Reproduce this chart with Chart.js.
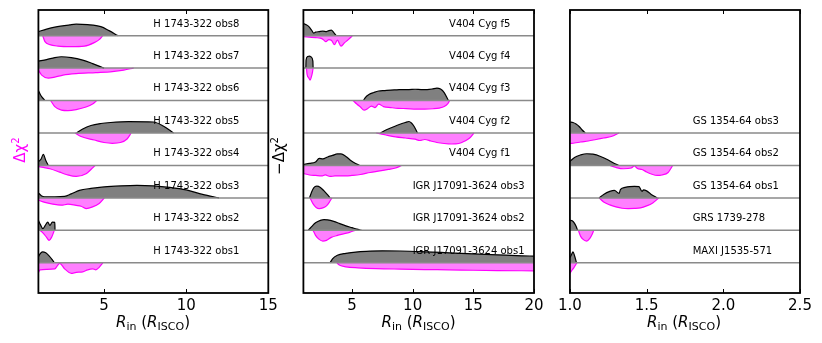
<!DOCTYPE html>
<html>
<head>
<meta charset="utf-8">
<script src="https://cdn.jsdelivr.net/npm/chart.js@4.4.0/dist/chart.umd.min.js"></script>
<style>
body { margin: 0; background: #fff; font-family: "DejaVu Sans", sans-serif; }
#wrap { position: relative; width: 822px; height: 343px; overflow: hidden; }
#wrap canvas { position: absolute; top: 0; }
.xt { position: absolute; top: 311px; height: 22px; line-height: 22px; font-size: 15px; text-align: center; white-space: nowrap; }
.xt sub { font-size: 11px; vertical-align: -3px; }
.yt { position: absolute; font-size: 15px; white-space: nowrap; transform: rotate(-90deg); transform-origin: center center; }
.yt sup { font-size: 10px; vertical-align: 6px; }
</style>
</head>
<body>
<div id="wrap">
  <canvas id="c1" width="284" height="343" style="left:0px"></canvas>
  <canvas id="c2" width="270" height="343" style="left:284px"></canvas>
  <canvas id="c3" width="268" height="343" style="left:554px"></canvas>
  <div class="xt" style="left:38px;width:230px"><i>R</i><sub>in</sub> (<i>R</i><sub>ISCO</sub>)</div>
  <div class="xt" style="left:303px;width:231px"><i>R</i><sub>in</sub> (<i>R</i><sub>ISCO</sub>)</div>
  <div class="xt" style="left:568px;width:232px"><i>R</i><sub>in</sub> (<i>R</i><sub>ISCO</sub>)</div>
  <div class="yt" style="left:-2px;top:140px;width:44px;height:20px;text-align:center;color:#ff00ff">Δχ<sup>2</sup></div>
  <div class="yt" style="left:255px;top:146px;width:48px;height:20px;text-align:center;color:#000">−Δχ<sup>2</sup></div>
</div>
<script>
// hauteurs, en unités arbitraires (pic ~12) -> converties en fraction de ligne
const HU = 1 / 32.4;

// H 1743-322 : [R_in, hauteur]  (Up = gris au-dessus, Dn = magenta en dessous)
const h8Up = [[1,4],[1.5,6.5],[2,8.5],[2.9,10.7],[3.3,11.4],[4,11],[4.8,9],[5.3,5],[5.83,0]];
const h8Dn = [[1.26,0],[1.4,6],[1.7,9],[2.2,10.5],[3,11],[3.8,10.5],[4.4,7],[4.7,4],[4.92,0]];
const h7Up = [[1,7],[1.5,8.5],[2,10.5],[2.4,11.3],[3,10.5],[3.7,8],[4.3,4.5],[5,0]];
const h7Dn = [[1,2],[1.2,7],[1.6,10],[2,9],[2.5,7],[3.3,5.5],[4.5,4.5],[5.5,3.5],[6.2,2],[6.8,0]];
const h6Up = [[1,10],[1.15,5],[1.4,0]];
const h6Dn = [[1.75,0],[2,6],[2.4,9.5],[2.8,10],[3.3,9],[3.9,6.5],[4.3,3.5],[4.55,0]];
const h5Up = [[3.33,0],[3.7,4],[4.2,7.5],[4.8,9.5],[5.4,10.5],[6.5,11.3],[8,11],[8.6,7],[9.23,0]];
const h5Dn = [[3.23,0],[3.6,3.5],[4.4,7],[5,9.5],[5.5,10.3],[6,9.5],[6.4,6],[6.65,0]];
const h4Up = [[1,4],[1.15,6],[1.3,11],[1.45,5],[1.6,0]];
const h4Dn = [[1,1],[1.3,2],[1.7,3.3],[2.3,6.7],[2.7,9],[3.3,11],[3.9,8.3],[4.2,4],[4.45,0]];
const h3Up = [[1,5],[1.2,2],[1.5,1],[2,1],[2.6,1.5],[3,4],[3.5,7.5],[4.2,9.5],[5,11],[6,12],[7,12.5],[8,12],[9,10.5],[10,8],[11,3.5],[12,0]];
const h3Dn = [[1,2.3],[1.4,4.5],[1.8,6],[2.4,7.3],[2.8,6.3],[3.3,7.5],[3.6,8.3],[3.9,10.6],[4.3,9],[4.7,5.6],[5.02,0]];
const h2Up = [[1,10],[1.13,5.5],[1.27,1.7],[1.42,5],[1.57,8.3],[1.7,5],[1.85,8.3],[2,8],[2.01,0]];
const h2Dn = [[1.1,0],[1.3,3],[1.5,7],[1.65,10],[1.8,7],[1.97,0]];
const h1Up = [[1,6],[1.1,9],[1.25,11],[1.45,10],[1.65,7],[1.85,3],[1.97,0]];
const h1Dn = [[1,10],[1.1,7],[1.5,6.5],[2,6],[2.15,3],[2.3,0.5],[2.6,6],[3,10.5],[3.3,9.5],[3.7,9],[4,7],[4.3,6],[4.5,7],[4.7,4.5],[4.92,0]];

// V404 Cyg et IGR J17091-3624
const f5Up = [[1,12],[1.2,11],[1.45,9],[1.7,5],[1.85,2.5],[2,3.5],[2.3,4],[2.6,4.5],[2.9,4],[3.1,5],[3.3,5.5],[3.5,3],[3.7,0]];
const f5Dn = [[1,1],[1.5,1.5],[2,2],[2.4,2.5],[2.65,4],[2.85,6],[3.1,4],[3.3,4.5],[3.55,9],[3.8,4.5],[4.1,10.5],[4.4,7],[4.7,4],[5.05,0]];
const f4Up = [[1.2,0],[1.22,8],[1.35,11.5],[1.5,12],[1.65,11],[1.78,7],[1.8,0]];
const f4Dn = [[1.25,0],[1.3,6],[1.45,10],[1.55,12],[1.65,9],[1.75,4],[1.8,0]];
const f3Up = [[5.95,0],[6.1,3],[6.4,6],[6.8,8],[7.2,9.5],[7.7,10],[8.2,10.5],[8.7,10.7],[9.2,11],[9.7,11],[10.2,11.3],[10.7,11],[11.2,11],[11.6,11.5],[12,12.5],[12.3,11.5],[12.6,8],[12.95,0]];
const f3Dn = [[5.1,0],[5.4,3.5],[5.7,6.5],[6,9.5],[6.3,8],[6.6,5.5],[6.9,7],[7.2,3.5],[7.6,6],[8.2,7],[8.8,7.8],[9.5,8],[10.3,8.5],[11,8.5],[11.7,8.2],[12.2,7.5],[12.6,6],[12.9,3],[13.05,0]];
const f2Up = [[7.35,0],[7.8,3],[8.3,5.5],[8.9,8.5],[9.4,10.5],[9.7,11.5],[9.9,10],[10.1,7],[10.4,0]];
const f2Dn = [[7,0],[7.8,2],[8.6,3.8],[9.4,5],[10.2,6.2],[10.6,7.5],[11,6.5],[11.5,8],[12,9.5],[12.6,10.5],[13.2,11],[13.8,10.5],[14.3,8],[14.7,5],[15.05,0]];
const f1Up = [[1,1],[1.5,2],[2,3.5],[2.3,7],[2.6,6.5],[3,8.5],[3.4,10],[3.8,11.5],[4.1,11.5],[4.5,9],[4.9,5],[5.3,2],[5.65,0]];
const f1Dn = [[1,8],[1.5,9.5],[2,10],[2.5,10.5],[2.8,9.5],[3.2,11],[3.6,10.5],[4,10.5],[4.5,10.5],[5,10],[5.7,9],[6.5,7],[7.3,5.5],[8,4],[8.6,2.5],[9.1,0]];
const i3Up = [[1.5,0],[1.65,5],[1.85,10],[2.1,11.7],[2.4,10.5],[2.7,7],[3,3],[3.2,0]];
const i3Dn = [[1.55,0],[1.8,6],[2.05,9.5],[2.3,10.6],[2.6,10],[2.9,8],[3.15,4],[3.35,0]];
const i2Up = [[1.4,0],[1.7,4],[2,7.5],[2.4,10],[2.7,10.7],[3,10.5],[3.5,9],[4,6.7],[4.5,4.5],[5,2.7],[5.4,1.2],[5.8,0]];
const i2Dn = [[1.8,0],[2,5],[2.3,9],[2.6,10.7],[2.9,10],[3.3,7],[3.8,5],[4.3,3.5],[4.8,2],[5.25,0]];
const i1Up = [[3.2,0],[3.4,4],[3.8,7.5],[4.5,9.5],[5.5,11],[6.5,11.7],[7.5,12],[9,11.8],[11,11],[13,10],[15,9],[17,8],[19,7],[20,6.7]];
const i1Dn = [[3.75,0],[4,2.5],[4.5,4],[5.5,5],[7,5.8],[9,6.3],[11,6.7],[13,7],[15,7.4],[17,7.7],[20,8]];

// GS 1354-64, GRS 1739-278, MAXI J1535-571
const g3Up = [[1,11],[1.02,10.5],[1.04,9],[1.06,6.5],[1.08,3],[1.1,0]];
const g3Dn = [[1,10.5],[1.03,10],[1.07,9],[1.12,8],[1.17,6.5],[1.22,5],[1.27,3.5],[1.32,0]];
const g2Up = [[1,4],[1.03,8],[1.07,10.5],[1.11,11.7],[1.15,11.3],[1.2,9],[1.25,5.5],[1.29,2],[1.32,0]];
const g2Dn = [[1.26,0],[1.3,2],[1.35,3.3],[1.4,2.5],[1.42,0.5],[1.44,3],[1.47,4],[1.5,6.5],[1.53,8.5],[1.57,10],[1.6,9.5],[1.64,7],[1.67,0]];
const g1Up = [[1.19,0],[1.22,3.5],[1.26,6.5],[1.29,7.5],[1.32,4.5],[1.33,8.5],[1.36,10.5],[1.39,11.3],[1.42,11.5],[1.45,11.3],[1.47,6.5],[1.48,8],[1.5,7],[1.53,3.5],[1.57,0]];
const g1Dn = [[1.19,0],[1.22,4],[1.26,7],[1.3,9],[1.34,10.3],[1.38,10.6],[1.42,10.5],[1.46,10],[1.5,8],[1.54,5],[1.58,0]];
const grsUp = [[1,10],[1.015,9.5],[1.03,7],[1.04,4],[1.05,0]];
const grsDn = [[1.055,0],[1.07,6],[1.09,9.5],[1.11,10.7],[1.13,8],[1.145,4],[1.155,0]];
const maxiUp = [[1,5],[1.01,8],[1.02,11],[1.03,7],[1.043,0]];
const maxiDn = [[1,10.6],[1.01,8],[1.025,5],[1.045,0]];

// étiquettes (du bas vers le haut), position x du texte et ticks
const p1Labels = ['H 1743-322 obs1','H 1743-322 obs2','H 1743-322 obs3','H 1743-322 obs4','H 1743-322 obs5','H 1743-322 obs6','H 1743-322 obs7','H 1743-322 obs8'];
const p2Labels = ['IGR J17091-3624 obs1','IGR J17091-3624 obs2','IGR J17091-3624 obs3','V404 Cyg f1','V404 Cyg f2','V404 Cyg f3','V404 Cyg f4','V404 Cyg f5'];
const p3Labels = ['MAXI J1535-571','GRS 1739-278','GS 1354-64 obs1','GS 1354-64 obs2','GS 1354-64 obs3'];
const p1LabelX = [8, 8, 8, 8, 8, 8, 8, 8];
const p2LabelX = [10, 10, 10, 13, 13, 13, 13, 13];
const p3LabelX = [1.8, 1.8, 1.8, 1.8, 1.8];
const p1Ticks = [5, 10, 15];
const p2Ticks = [5, 10, 15, 20];
const p3Ticks = [1.0, 1.5, 2.0, 2.5];

const p1Curves = [[h1Up,h1Dn],[h2Up,h2Dn],[h3Up,h3Dn],[h4Up,h4Dn],[h5Up,h5Dn],[h6Up,h6Dn],[h7Up,h7Dn],[h8Up,h8Dn]];
const p2Curves = [[i1Up,i1Dn],[i2Up,i2Dn],[i3Up,i3Dn],[f1Up,f1Dn],[f2Up,f2Dn],[f3Up,f3Dn],[f4Up,f4Dn],[f5Up,f5Dn]];
const p3Curves = [[maxiUp,maxiDn],[grsUp,grsDn],[g1Up,g1Dn],[g2Up,g2Dn],[g3Up,g3Dn]];

// cadre, ticks internes et noms des sources
const framePlugin = {
    id: 'frame',
    afterDatasetsDraw(chart, args, opts) {
        const { ctx, chartArea: a, scales: { x, y } } = chart;
        ctx.save();
        ctx.font = '10px "DejaVu Sans"';
        ctx.fillStyle = '#000';
        ctx.textBaseline = 'middle';
        opts.labels.forEach((lab, i) => {
            ctx.fillText(lab, x.getPixelForValue(opts.labelX[i]), y.getPixelForValue(i + 1 + 0.36));
        });
        ctx.strokeStyle = '#000';
        ctx.lineWidth = 1;
        x.ticks.forEach(t => {
            const px = Math.round(x.getPixelForValue(t.value)) + 0.5;
            ctx.beginPath();
            ctx.moveTo(px, a.bottom); ctx.lineTo(px, a.bottom - 4);
            ctx.moveTo(px, a.top); ctx.lineTo(px, a.top + 4);
            ctx.stroke();
        });
        ctx.lineWidth = 1.8;
        ctx.strokeRect(a.left, a.top, a.width, a.height);
        ctx.restore();
    }
};

function buildSets(curves, xmin, xmax) {
    const sets = [];
    curves.forEach(([up, dn], i) => {
        const base = i + 1;
        sets.push({
            data: up.map(([x, h]) => ({ x: x, y: base + h * HU })),
            fill: { value: base },
            backgroundColor: '#808080', borderColor: '#000', borderWidth: 1.2, order: 1
        });
        sets.push({
            data: dn.map(([x, h]) => ({ x: x, y: base - h * HU })),
            fill: { value: base },
            backgroundColor: 'rgba(255,0,255,0.5)', borderColor: '#ff00ff', borderWidth: 1.2, order: 1
        });
        sets.push({
            data: [{ x: xmin, y: base }, { x: xmax, y: base }],
            fill: false, borderColor: '#8a8a8a', borderWidth: 1.5, order: 0
        });
    });
    return sets;
}

function makePanel(id, curves, labels, labelX, xmin, xmax, ticks, fmt, padL, padR) {
    new Chart(document.getElementById(id), {
        type: 'line',
        data: { datasets: buildSets(curves, xmin, xmax) },
        options: {
            responsive: false,
            animation: false,
            events: [],
            layout: { padding: { left: padL, right: padR, top: 10, bottom: 0 } },
            elements: { point: { radius: 0 }, line: { cubicInterpolationMode: 'monotone' } },
            scales: {
                x: {
                    type: 'linear', min: xmin, max: xmax,
                    afterBuildTicks: s => { s.ticks = ticks.map(v => ({ value: v })); },
                    afterFit: s => { s.height = 50; },
                    grid: { display: false, drawTicks: false },
                    border: { display: false },
                    ticks: { color: '#000', padding: 4, font: { family: 'DejaVu Sans', size: 15 }, callback: fmt, maxRotation: 0 }
                },
                y: { type: 'linear', min: 0.07, max: 8.79, display: false }
            },
            plugins: {
                legend: { display: false },
                tooltip: { enabled: false },
                frame: { labels: labels, labelX: labelX }
            }
        },
        plugins: [framePlugin]
    });
}

makePanel('c1', p1Curves, p1Labels, p1LabelX, 1, 15, p1Ticks, v => String(v), 38.4, 15.7);
makePanel('c2', p2Curves, p2Labels, p2LabelX, 1, 20, p2Ticks, v => String(v), 19.4, 20);
makePanel('c3', p3Curves, p3Labels, p3LabelX, 1, 2.5, p3Ticks, v => v.toFixed(1), 14.3, 22);
</script>
</body>
</html>
